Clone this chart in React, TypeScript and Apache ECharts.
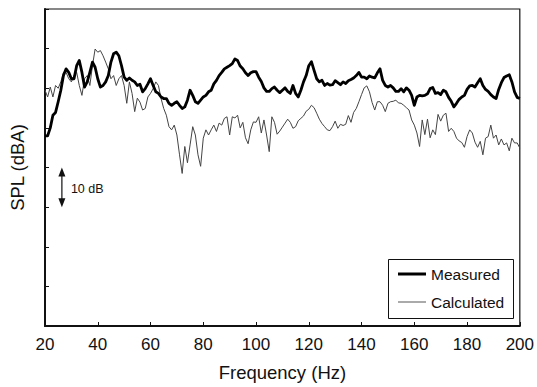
import React, { useEffect, useRef } from "react";
import * as echarts from "echarts";

// Frequency grid (Hz): first value and step of the sampled spectra
const freqStart = 20;
const freqStep = 1;

// SPL in dB (relative scale, 10 dB per y tick), one value per Hz from 20 to 200 Hz
const measured = [
  48, 48, 50, 53.2, 53.9, 56.6, 59.5, 63.2, 64.9, 64,
  62.4, 62.4, 65.7, 67, 64, 60.3, 61.6, 64, 66.6, 65.3,
  62.4, 60.3, 60.7, 61.6, 63.2, 66.6, 68.7, 69.1, 68.2, 65.7,
  62.8, 62, 62.6, 62, 61.6, 60.7, 61, 59.1, 59.9, 61.1,
  62.4, 60.7, 59.1, 58.7, 57.8, 57.4, 57.4, 56.2, 55.7, 56.2,
  56.6, 55.7, 54.9, 55.3, 57, 59.5, 58.2, 56.6, 56.2, 57,
  57.8, 58.2, 59.1, 59.5, 61.1, 62, 63.2, 64, 64.9, 65.3,
  65.7, 66.2, 67.4, 67, 65.6, 64.9, 63.9, 63.2, 63.9, 64.2,
  64.2, 62.8, 61.7, 60.1, 59.2, 59.2, 59.9, 60.3, 59.5, 58.9,
  59.5, 60.1, 59.2, 58.7, 60.7, 58.7, 57.8, 59.5, 61.6, 63.2,
  65.7, 66.7, 64.5, 62.4, 61.6, 62, 60.7, 61.2, 60.8, 60.9,
  61.9, 61.4, 60.9, 61.6, 61.2, 61.9, 62.2, 62.6, 63.2, 64,
  62.8, 62.8, 62.4, 63.1, 62.8, 62.6, 63.9, 64.9, 62, 60.7,
  60.3, 60.7, 60.1, 59.2, 59.2, 59.9, 59.1, 60.1, 59.5, 58.2,
  55.7, 57.8, 58.2, 58.1, 58.2, 58.6, 59.9, 60.2, 58.7, 58.9,
  58.4, 59.5, 59.1, 57.7, 56.7, 55.3, 56.2, 57.2, 57.8, 58.2,
  59.7, 60.6, 60.7, 60.3, 61.4, 62.4, 60.7, 59.7, 59.2, 58.4,
  57.8, 57.4, 59.7, 61.4, 62.7, 63.1, 63.4, 61.6, 59.1, 57.7,
  57.4,
];

const calculated = [
  59.5, 57.8, 60.3, 57.8, 60.7, 60, 61.6, 64, 64, 62.4,
  61.6, 63.2, 64, 60.7, 58.2, 62.4, 63.2, 60.7, 65.7, 69.9,
  69.1, 69.5, 68.2, 66.6, 64.9, 62.4, 63.2, 60.7, 62.4, 63.2,
  60.7, 56.2, 61.6, 58.7, 54.1, 57.5, 56.5, 54.5, 54.9, 57.8,
  58.7, 59.9, 61.6, 60.7, 57.4, 54.9, 53.2, 50.3, 49.5, 50.7,
  48.2, 43.2, 38.5, 45.3, 41.2, 45.7, 50.3, 48.2, 43.2, 40.3,
  47.4, 49.5, 48.2, 49.5, 50.7, 49.1, 51.2, 50.7, 52.4, 52.8,
  48.2, 52.8, 52.5, 53.2, 50, 51.4, 47.5, 46, 49.5, 51.5,
  51.4, 52.8, 48.7, 52, 48.2, 44, 52.8, 51.4, 48.4, 49.2,
  50.2, 51.2, 52.2, 51.4, 49.9, 50.3, 51.8, 52.4, 53, 54.2,
  54.7, 55.7, 55.1, 53.7, 52.2, 51.1, 50.3, 49.5, 49.3, 50.3,
  51.7, 49.9, 50.9, 50.6, 50.9, 53.1, 51.4, 53.9, 54.9, 56.6,
  58.4, 60.1, 60.6, 59.1, 56.4, 54.5, 56.6, 56.6, 55.7, 54.1,
  56.2, 56.6, 56.7, 57, 56.3, 56.2, 55.7, 55.1, 54.5, 52,
  50.7, 48.7, 45.3, 52, 48.3, 52.2, 47.5, 49.5, 48.3, 53.4,
  51.7, 53.2, 53.7, 49.1, 49.9, 49.1, 47.4, 46.7, 46.3, 45.1,
  47.8, 49.5, 48.7, 46.4, 45.1, 46.6, 43.2, 47.4, 47.8, 50.7,
  47.4, 48.2, 45.7, 47.2, 45.7, 46.2, 44.2, 47.4, 46.2, 46.2,
  44.9,
];

// Axis settings
const xMin = 20;
const xMax = 200;
const xInterval = 20;
const yMin = 0;
const yMax = 80;
const yInterval = 10;

// Scale-bar annotation ("10 dB")
const scaleBarFreq = 26.4;
const scaleBarTop = 40;
const scaleBarBottom = 30;
const scaleBarLabel = "10 dB";

const seriesNames = ["Measured", "Calculated"];

const toPairs = (vals: number[]) => vals.map((v, i) => [freqStart + i * freqStep, v]);

export default function App() {
  const ref = useRef<HTMLDivElement>(null);

  useEffect(() => {
    if (!ref.current) return;
    const chart = echarts.init(ref.current, null, { renderer: "svg" });
    const font = "'Liberation Sans', Arial, Helvetica, sans-serif";
    chart.setOption({
      animation: false,
      backgroundColor: "#ffffff",
      textStyle: { fontFamily: font, color: "#111" },
      grid: {
        left: 45,
        right: 15,
        top: 9,
        bottom: 59,
        show: true,
        borderColor: "#111",
        borderWidth: 1.2,
        backgroundColor: "transparent",
      },
      legend: {
        orient: "vertical",
        left: 388,
        top: 259,
        padding: [7, 1, 8, 10],
        itemGap: 12,
        itemWidth: 28,
        itemHeight: 14,
        borderWidth: 0,
        textStyle: { fontSize: 15.5, color: "#111", fontFamily: font },
        data: [
          { name: seriesNames[0], icon: "path://M0 0H28V3H0Z", itemStyle: { color: "#000" } },
          { name: seriesNames[1], icon: "path://M0 0H28V1H0Z", itemStyle: { color: "#555" } },
        ],
      },
      xAxis: {
        type: "value",
        min: xMin,
        max: xMax,
        interval: xInterval,
        name: "Frequency (Hz)",
        nameLocation: "middle",
        nameGap: 37,
        nameTextStyle: { fontSize: 18.5, color: "#111", fontFamily: font },
        axisLine: { show: true, lineStyle: { color: "#111", width: 2 } },
        axisTick: { show: true, inside: true, length: 4, lineStyle: { color: "#111", width: 1 } },
        axisLabel: { fontSize: 17, color: "#111", margin: 10, fontFamily: font },
        splitLine: { show: false },
      },
      yAxis: {
        type: "value",
        min: yMin,
        max: yMax,
        interval: yInterval,
        name: "SPL (dBA)",
        nameLocation: "middle",
        nameGap: 18,
        nameTextStyle: { fontSize: 18.5, color: "#111", fontFamily: font },
        axisLine: { show: true, lineStyle: { color: "#111", width: 2 } },
        axisTick: { show: true, inside: true, length: 4, lineStyle: { color: "#111", width: 1 } },
        axisLabel: { show: false },
        splitLine: { show: false },
      },
      series: [
        {
          name: seriesNames[0],
          type: "line",
          data: toPairs(measured),
          showSymbol: false,
          symbol: "none",
          lineStyle: { color: "#000", width: 2.8, join: "round" },
          itemStyle: { color: "#000" },
          z: 3,
        },
        {
          name: seriesNames[1],
          type: "line",
          data: toPairs(calculated),
          showSymbol: false,
          symbol: "none",
          lineStyle: { color: "#444", width: 1 },
          itemStyle: { color: "#444" },
          z: 2,
        },
      ],
    });

    const top = chart.convertToPixel({ xAxisIndex: 0, yAxisIndex: 0 }, [scaleBarFreq, scaleBarTop]) as number[];
    const bot = chart.convertToPixel({ xAxisIndex: 0, yAxisIndex: 0 }, [scaleBarFreq, scaleBarBottom]) as number[];
    const x = top[0];
    const head = 9;
    const half = 3.5;
    chart.setOption({
      graphic: [
        {
          type: "rect",
          shape: { x: 388.5, y: 259.5, width: 125, height: 59 },
          style: { fill: "none", stroke: "#111", lineWidth: 1 },
          z: 10,
        },
        {
          type: "line",
          shape: { x1: x, y1: top[1] + head - 1, x2: x, y2: bot[1] - head + 1 },
          style: { stroke: "#222", lineWidth: 1.3 },
        },
        {
          type: "polygon",
          shape: { points: [[x, top[1]], [x - half, top[1] + head], [x + half, top[1] + head]] },
          style: { fill: "#111" },
        },
        {
          type: "polygon",
          shape: { points: [[x, bot[1]], [x - half, bot[1] - head], [x + half, bot[1] - head]] },
          style: { fill: "#111" },
        },
        {
          type: "text",
          x: x + 9,
          y: (top[1] + bot[1]) / 2 + 2,
          style: {
            text: scaleBarLabel,
            fontSize: 12.5,
            fontFamily: font,
            fill: "#111",
            verticalAlign: "middle",
            align: "left",
          },
        },
      ],
    });

    return () => chart.dispose();
  }, []);

  return (
    <div
      ref={ref}
      style={{ position: "fixed", left: 0, top: 0, width: 537, height: 387 }}
    />
  );
}
